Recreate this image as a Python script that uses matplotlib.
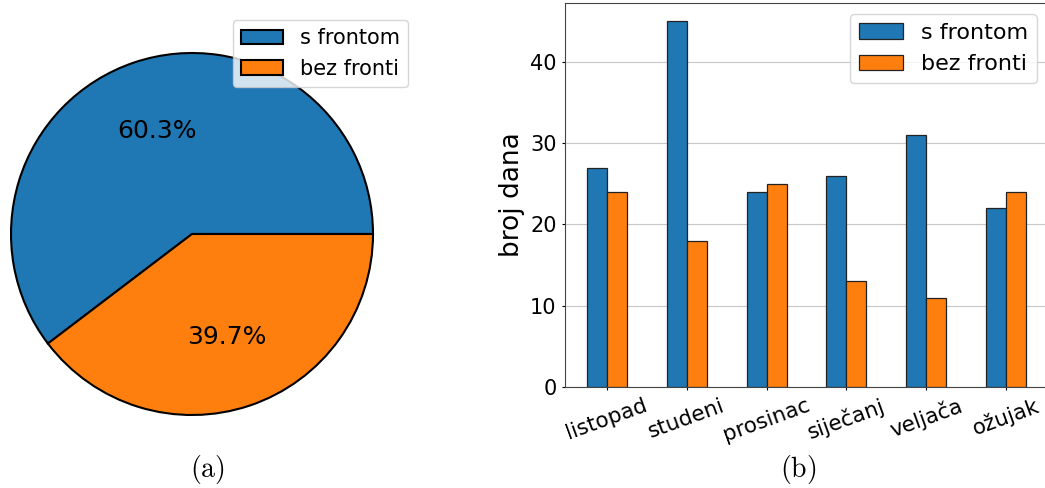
import matplotlib
matplotlib.use("Agg")
import matplotlib.pyplot as plt
import numpy as np

plt.rcParams['mathtext.fontset'] = 'cm'

months = ["listopad", "studeni", "prosinac", "siječanj", "veljača", "ožujak"]
s_frontom = [27, 45, 24, 26, 31, 22]
bez_fronti = [24, 18, 25, 13, 11, 24]
series_labels = ["s frontom", "bez fronti"]
colors = ["#1f77b4", "#ff7f0e"]

W, H = 1045, 488
fig = plt.figure(figsize=(W / 100, H / 100), dpi=100)

# Pie chart
totals = [sum(s_frontom), sum(bez_fronti)]
cx, cy, r = 192, 234, 181
axp = fig.add_axes([(cx - r) / W, (H - cy - r) / H, 2 * r / W, 2 * r / H])
wedges, texts, autotexts = axp.pie(totals, colors=colors, autopct='%1.1f%%',
                                   startangle=0, counterclock=True,
                                   wedgeprops=dict(edgecolor='black', linewidth=1.5),
                                   textprops=dict(fontsize=18))
for w in wedges:
    w.set_clip_on(False)
axp.set_xlim(-1, 1)
axp.set_ylim(-1, 1)
axp.set_aspect('equal')
axp.axis('off')
axp.legend(wedges, series_labels, loc='upper right',
           bbox_to_anchor=(408 / W, 1 - 20 / H), bbox_transform=fig.transFigure,
           borderaxespad=0, fontsize=15)

# Bar chart
x0, x1, y0, y1 = 565, 1048, 387, 3
axb = fig.add_axes([x0 / W, (H - y0) / H, (x1 - x0) / W, (y0 - y1) / H])
x = np.arange(len(months))
w = 0.25
axb.bar(x - w / 2, s_frontom, w, color=colors[0], edgecolor='#222222', linewidth=0.9,
        label=series_labels[0])
axb.bar(x + w / 2, bez_fronti, w, color=colors[1], edgecolor='#222222', linewidth=0.9,
        label=series_labels[1])
axb.set_axisbelow(True)
axb.yaxis.grid(True, color='#c8c8c8', linewidth=0.8)
axb.set_xticks(x)
axb.set_xticklabels(months, rotation=20, fontsize=15.5)
axb.tick_params(axis='y', labelsize=15)
axb.tick_params(length=2.5)
axb.set_yticks([0, 10, 20, 30, 40])
axb.set_ylabel("broj dana", fontsize=19)
axb.legend(loc='upper right', fontsize=16)
for sp in axb.spines.values():
    sp.set_color('#444444')

# Captions
fig.text(207 / W, 1 - 470 / H, r'$\mathrm{(a)}$', ha='center', va='center', fontsize=20)
fig.text(798 / W, 1 - 470 / H, r'$\mathrm{(b)}$', ha='center', va='center', fontsize=20)

fig.savefig("out.png", dpi=100)
